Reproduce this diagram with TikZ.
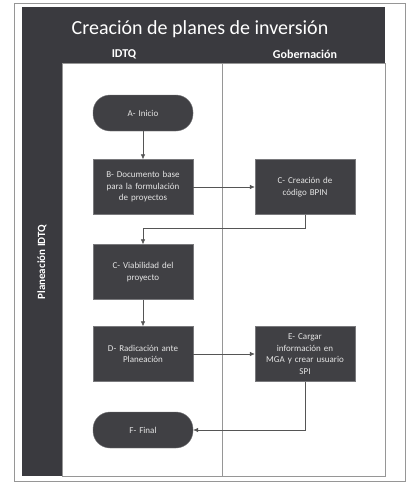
\documentclass[tikz,border=0pt]{standalone}
\usepackage{fontspec}
\setmainfont{Carlito}
\usepackage{xcolor}
\usepackage{tikz}
\usetikzlibrary{arrows.meta, calc}

\definecolor{laneDark}{RGB}{58,58,63}
\definecolor{boxDark}{RGB}{64,64,68}
\definecolor{frameGray}{RGB}{150,150,150}
\definecolor{lineGray}{RGB}{85,85,85}

\begin{document}
\begin{tikzpicture}[x=1pt, y=-1pt,
    procbox/.style={rectangle, fill=boxDark, draw=boxDark!70!white,
        minimum width=100pt, minimum height=55pt, text width=94pt,
        align=center, text=white!90!black, inner sep=2pt,
        font=\fontsize{9}{11.5}\selectfont},
    termbox/.style={procbox, rounded corners=17pt, minimum height=36pt},
    flow/.style={draw=lineGray, line width=0.6pt, -{Latex[length=5pt,width=4.5pt]}}]

        \useasboundingbox (0,0) rectangle (411,485);
        \fill[white] (0,0) rectangle (411,485);

        % Outer frame
        \draw[frameGray, line width=0.8pt] (14,3) rectangle (405,481);

        % Title band and lane bar
        \fill[laneDark] (22,7) rectangle (385,63);
        \fill[laneDark] (22,63) rectangle (62,476);

        % Lane body with the divider
        \draw[frameGray, line width=0.6pt] (62,63) rectangle (385,476);
        \draw[frameGray, line width=0.6pt] (222,63) -- (222,476);

        % Titles
        \node[text=white, font=\fontsize{20}{24}\selectfont] (title) at (200,29) {Creación de planes de inversión};
        \node[text=white, font=\fontsize{12}{14}\selectfont\bfseries] (idtq) at (124,54) {IDTQ};
        \node[text=white, font=\fontsize{12}{14}\selectfont\bfseries] (gob) at (305,54) {Gobernación};
        \node[text=white, font=\fontsize{11}{13}\selectfont\bfseries, rotate=90] (plan) at (42,262) {Planeación IDTQ};

        % Steps
        \node[termbox] (a) at (143,113) {A- Inicio};
        \node[procbox] (b) at (143,187) {B- Documento base\\para la formulación\\de proyectos};
        \node[procbox] (c) at (305,187) {C- Creación de\\código BPIN};
        \node[procbox] (v) at (143,272) {C- Viabilidad del\\proyecto};
        \node[procbox] (d) at (143,354) {D- Radicación ante\\Planeación};
        \node[procbox] (e) at (305,354) {E- Cargar\\información en\\MGA y crear usuario\\SPI};
        \node[termbox] (f) at (143,430) {F- Final};

        % Connectors
        \draw[flow] (a) -- (b);
        \draw[flow] (b) -- (c);
        \draw[flow] (c.south) -- ++(0,14) -| (v.north);
        \draw[flow] (v) -- (d);
        \draw[flow] (d) -- (e);
        \draw[flow] (e.south) |- (f.east);
    \end{tikzpicture}
\end{document}
